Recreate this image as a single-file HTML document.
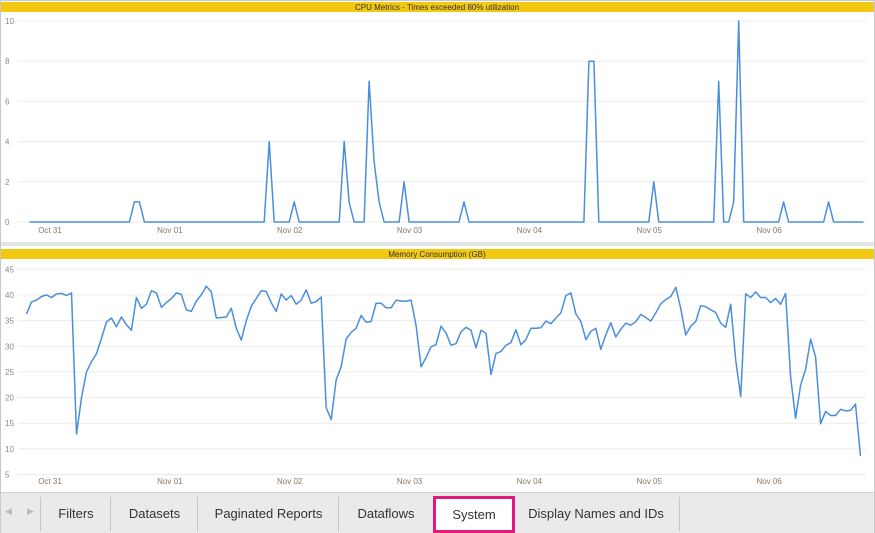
<!DOCTYPE html>
<html><head><meta charset="utf-8"><style>
body{margin:0;width:875px;height:533px;overflow:hidden;background:#fff;font-family:"Liberation Sans",sans-serif;position:relative}
.frame{position:absolute;left:0;top:0;width:873px;height:531px;border:1px solid #c8c8c8}
.tabs{position:absolute;left:1px;top:492px;width:873px;height:40px;background:#eaeaea;border-top:1px solid #d0d0d0}
.tab{position:absolute;top:4px;height:34px;line-height:34px;text-align:center;font-size:13px;color:#333;border-left:1px solid #c4c4c4}
</style></head><body>
<div class="frame"></div>
<svg id="chart" width="875" height="492" style="position:absolute;left:0;top:0"></svg>
<div class="tabs">
<div style="position:absolute;left:4px;top:13px;font-size:9px;color:#bbb">◀</div>
<div style="position:absolute;left:26px;top:13px;font-size:9px;color:#bbb">▶</div>
<div class="tab" style="left:39px;width:70px">Filters</div>
<div class="tab" style="left:109px;width:87px">Datasets</div>
<div class="tab" style="left:196px;width:141px">Paginated Reports</div>
<div class="tab" style="left:337px;width:94px">Dataflows</div>
<div class="tab" style="left:432px;top:3px;width:76px;height:31px;line-height:31px;background:#fff;border:3px solid #e3197f">System</div>
<div class="tab" style="left:512px;width:166px;border-left:none">Display Names and IDs</div>
<div class="tab" style="left:678px;width:1px"></div>
</div>
<script>
const hourStart = -5;
const dayLabels = ["Oct 31","Nov 01","Nov 02","Nov 03","Nov 04","Nov 05","Nov 06"];
const cpuTicks = [0,2,4,6,8,10];
const memTicks = [5,10,15,20,25,30,35,40,45];
const cpuSpikes = {16:1,17:1,43:4,48:1,58:4,59:1,63:7,64:3,65:1,70:2,82:1,107:8,108:8,120:2,133:7,136:1,137:10,146:1,155:1};
const cpuValues = [];
for (let h = -5; h <= 162; h++) cpuValues.push(cpuSpikes[h] || 0);
const memValues = [36.3,38.6,39,39.7,40,39.5,40.2,40.3,39.9,40.4,12.9,20,25,27,28.5,31.5,34.7,35.5,33.8,35.7,34.2,33.1,39.5,37.4,38.2,40.8,40.4,37.6,38.5,39.3,40.4,40.1,37.1,36.8,38.8,40,41.7,40.6,35.5,35.6,35.7,37.4,33.5,31.2,35,37.8,39.3,40.8,40.7,38.5,36.8,40.2,39,39.9,38.2,39,41,38.4,38.7,39.6,18,15.7,23.5,26,31.4,32.7,33.5,36,34.7,34.8,38.4,38.4,37.5,37.5,39,38.8,38.8,39,34,26,27.8,
29.9,30.3,33.9,32.6,30.2,30.5,32.8,33.7,33.1,29.7,33.1,32.5,24.5,28.6,29.0,30.2,30.7,33.2,30.3,31.3,33.5,33.5,33.6,34.9,34.4,35.5,36.5,39.9,40.4,36.3,34.8,31.3,32.9,33.5,29.4,32.2,34.6,31.8,33.3,34.5,34.1,34.8,36.2,35.6,34.9,36.5,38.3,39.1,39.7,41.5,37.4,32.2,33.9,34.8,37.9,37.7,37.1,36.6,34.5,33.7,38.2,27.3,20.2,40.2,39.5,40.6,39.5,39.5,38.5,39.3,38.2,40.3,24.0,16.0,22.4,25.5,31.4,27.9,14.9,17.3,16.5,16.5,17.7,17.4,17.5,18.7,8.6];

const NS="http://www.w3.org/2000/svg";
const svg=document.getElementById('chart');
function el(t,a,p){const e=document.createElementNS(NS,t);for(const k in a)e.setAttribute(k,a[k]);(p||svg).appendChild(e);return e;}
function xIdx(i){return 52 + (hourStart+i)*((861-27)/167);}
function panel(cfg){
  const g=el('g',{});
  
  
  const bar=el('rect',{x:1,y:cfg.barY,width:873,height:10,fill:'#f2c811'},g);
  
  
  const t=el('text',{x:437,y:cfg.barY+8,'font-size':8,'text-anchor':'middle',fill:'#333'},g);
  t.textContent=cfg.title;
  
  
  const y=v=>cfg.y0+(v-cfg.vmin)*(cfg.y1-cfg.y0)/(cfg.vmax-cfg.vmin);
  cfg.ticks.forEach(v=>{
    const l=el('line',{x1:18,x2:866,y1:y(v),y2:y(v),stroke:'#ececec','stroke-width':1},g);
    
    
    const tx=el('text',{x:5,y:y(v)+3,'font-size':8,fill:'#888'},g);
    tx.textContent=v;
    
    
  });
  dayLabels.forEach((d,i)=>{
    const tx=el('text',{x:xIdx(-hourStart+i*24)-2,y:cfg.labelY,'font-size':8,fill:'#8a7666','text-anchor':'middle'},g);
    tx.textContent=d;
    
    
  });
  const pts=cfg.values.map((v,i)=>(xIdx(i)+cfg.dx).toFixed(1)+','+y(v).toFixed(1)).join(' ');
  const pl=el('polyline',{points:pts,fill:'none',stroke:'#4a8ede','stroke-width':1.5,'stroke-linejoin':'round'},g);
  
  
}
el('rect',{x:1,y:242,width:873,height:4,fill:'#e4e4e4'});
panel({name:'cpu-chart',title:'CPU Metrics - Times exceeded 80% utilization',barY:2,ticks:cpuTicks,values:cpuValues,vmin:0,vmax:10,y0:222,y1:21,labelY:233,dx:2.5});
panel({name:'memory-chart',title:'Memory Consumption (GB)',barY:249,ticks:memTicks,values:memValues,vmin:5,vmax:45,y0:474.5,y1:269.3,labelY:484,dx:-0.5});
</script>
</body></html>
